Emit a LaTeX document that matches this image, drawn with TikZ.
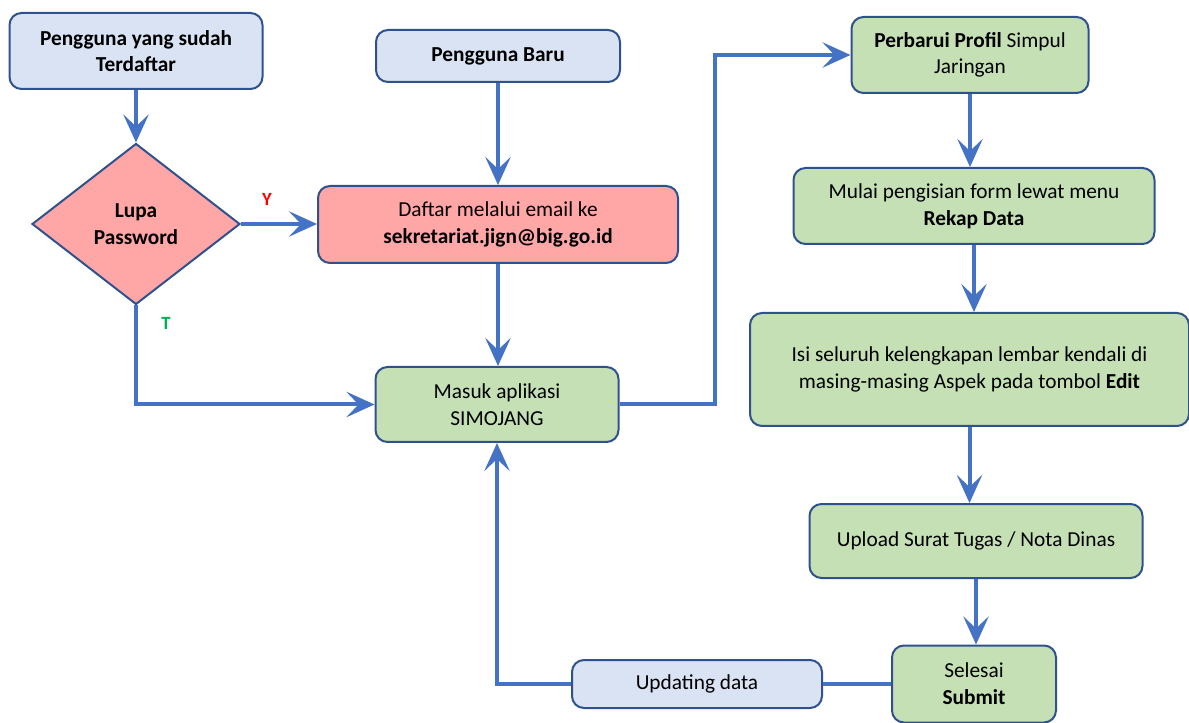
\documentclass[tikz,border=0pt]{standalone}
\usepackage{fontspec}
\setmainfont{Carlito}
\usetikzlibrary{shapes.geometric,arrows.meta}

\definecolor{edgeblue}{HTML}{2F528F}
\definecolor{lineblue}{HTML}{4472C4}
\definecolor{fillblue}{HTML}{DAE3F3}
\definecolor{fillpink}{HTML}{FFA6A6}
\definecolor{fillgreen}{HTML}{C5E0B4}
\definecolor{yesred}{HTML}{FF0000}
\definecolor{nogreen}{HTML}{00B050}

\begin{document}
\begin{tikzpicture}[
        x=0.75pt, y=-0.75pt,
        box/.style={draw=edgeblue, line width=1.5pt, rounded corners=9pt,
            align=center, inner sep=2pt, font=\fontsize{16}{20}\selectfont},
        bluebox/.style={box, fill=fillblue},
        pinkbox/.style={box, fill=fillpink},
        greenbox/.style={box, fill=fillgreen},
        decision/.style={diamond, draw=edgeblue, line width=1.5pt, fill=fillpink,
            align=center, inner sep=0pt, font=\fontsize{16}{20}\selectfont\bfseries},
        flow/.style={draw=lineblue, line width=3pt},
        flowarrow/.style={flow, -{Stealth[length=21pt,width=19pt,inset=9pt]}},
        answer/.style={font=\fontsize{14}{16}\selectfont\bfseries}
    ]
        \useasboundingbox (0,0) rectangle (1189,723);

        % left column
        \node[bluebox, minimum width=189.75pt, minimum height=57pt] (terdaftar) at (136,51)
            {\textbf{Pengguna yang sudah}\\\textbf{Terdaftar}};
        \node[decision, minimum width=156pt, minimum height=120.75pt] (lupa) at (136,224)
            {Lupa\\Password};

        % middle column
        \node[bluebox, minimum width=183pt, minimum height=39pt] (baru) at (498,56)
            {\textbf{Pengguna Baru}};
        \node[pinkbox, minimum width=270pt, minimum height=57.75pt] (daftar) at (498,224.5)
            {Daftar melalui email ke\\\textbf{sekretariat.jign@big.go.id}};
        \node[greenbox, minimum width=182.25pt, minimum height=56.25pt] (masuk) at (497,404.5)
            {Masuk aplikasi\\SIMOJANG};
        \node[bluebox, minimum width=187.5pt, minimum height=36pt] (updating) at (697,684)
            {Updating data};

        % right column
        \node[greenbox, minimum width=177.75pt, minimum height=57pt] (profil) at (970,55)
            {\textbf{Perbarui Profil} Simpul\\Jaringan};
        \node[greenbox, minimum width=270.75pt, minimum height=57pt] (rekap) at (974,206)
            {Mulai pengisian form lewat menu\\\textbf{Rekap Data}};
        \node[greenbox, minimum width=329.25pt, minimum height=84.75pt] (isi) at (969.5,369.5)
            {Isi seluruh kelengkapan lembar kendali di\\masing-masing Aspek pada tombol \textbf{Edit}};
        \node[greenbox, minimum width=249.75pt, minimum height=55.5pt] (upload) at (976,541)
            {Upload Surat Tugas / Nota Dinas};
        \node[greenbox, minimum width=123pt, minimum height=57.75pt] (selesai) at (974,684)
            {Selesai\\\textbf{Submit}};

        % answers
        \node[answer, text=yesred] (ya) at (267,199) {Y};
        \node[answer, text=nogreen] (tidak) at (166,323) {T};

        % connectors
        \draw[flowarrow] (terdaftar.south) -- (lupa.north);
        \draw[flowarrow] (lupa.east) -- (lupa.east -| daftar.west);
        \draw[flowarrow] (lupa.south) |- (masuk.west);
        \draw[flowarrow] (baru.south) -- (baru.south |- daftar.north);
        \draw[flowarrow] (daftar.south) -- (daftar.south |- masuk.north);
        \draw[flowarrow] (masuk.east) -- ++(95,0) |- (profil.west);
        \draw[flowarrow] (profil.south) -- (profil.south |- rekap.north);
        \draw[flowarrow] (rekap.south) -- (rekap.south |- isi.north);
        \draw[flowarrow] (isi.south) -- (isi.south |- upload.north);
        \draw[flowarrow] (upload.south) -- (upload.south |- selesai.north);
        \draw[flow] (selesai.west) -- (updating.east);
        \draw[flowarrow] (updating.west) -| (masuk.south);
    \end{tikzpicture}
\end{document}
